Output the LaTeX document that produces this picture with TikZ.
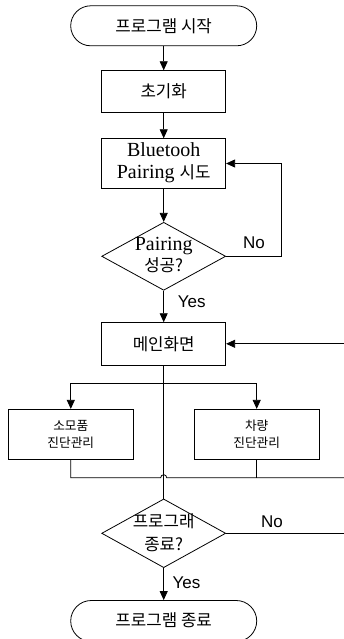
\documentclass[tikz,border=0pt]{standalone}
\usepackage{fontspec}
\setmainfont{Liberation Serif}
\newfontfamily\kr{Noto Sans CJK KR}
\newfontfamily\lsans{Liberation Sans}
\usetikzlibrary{shapes.misc,shapes.geometric,arrows.meta}
\begin{document}
\begin{tikzpicture}[x=1pt,y=-1pt, line width=0.8pt,
  box/.style={draw, rectangle, inner sep=0pt, minimum width=124pt},
  term/.style={draw, rounded rectangle, inner sep=0pt, minimum width=186pt, minimum height=40pt},
  dia/.style={draw, diamond, inner sep=0pt, minimum width=124pt, minimum height=68pt},
  arr/.style={-{Triangle[length=9pt,width=8pt]}},
  lab/.style={font=\lsans\fontsize{17}{20}\selectfont, inner sep=0pt},
  kt/.style={font=\kr\fontsize{16.8}{21}\selectfont, align=center, inner sep=0pt},
  ks/.style={font=\kr\fontsize{12.7}{17}\selectfont, align=center, inner sep=0pt},
  ]
\useasboundingbox (0,0) rectangle (344,639);
\clip (0,0) rectangle (344,639);

\node[term] (start) at (163.7,25.8) {};
\node[kt] (tstart) at (163.7,25.8) {프로그램 시작};
\node[box, minimum height=41.6pt] (init) at (163.7,91.5) {};
\node[kt] (tinit) at (163.7,91.5) {초기화};
\node[box, minimum height=49.6pt] (bt) at (163.7,163.5) {};
\node[font=\fontsize{20}{22}\selectfont, align=center, inner sep=0pt] (tbt) at (163.7,163) {Bluetooh\\Pairing {\kr\fontsize{16.8}{22}\selectfont 시도}};
\node[dia] (d1) at (163.7,256.3) {};
\node[font=\fontsize{20}{21}\selectfont, align=center, inner sep=0pt] (td1) at (163.7,255) {Pairing\\{\kr\fontsize{16.8}{21}\selectfont 성공?}};
\node[box, minimum height=42.3pt] (main) at (163.7,343.8) {};
\node[kt] (tmain) at (163.7,343.8) {메인화면};
\node[box, minimum width=125pt, minimum height=50pt] (c1) at (70.8,434.3) {};
\node[ks] (tc1) at (70.8,434.3) {소모품\\진단관리};
\node[box, minimum width=124.7pt, minimum height=50pt] (c2) at (256.7,434.3) {};
\node[ks] (tc2) at (256.7,434.3) {차량\\진단관리};
\node[dia, minimum height=68.7pt] (d2) at (163.7,533.3) {};
\node[font=\kr\fontsize{16.8}{23}\selectfont, align=center, inner sep=0pt] (td2) at (163.7,533) {프로그래\\종료?};
\node[term, minimum height=41pt] (end) at (163.7,621) {};
\node[kt] (tend) at (163.7,620) {프로그램 종료};

\node[lab] (no1) at (254,243) {No};
\node[lab] (yes1) at (191.7,301.5) {Yes};
\node[lab] (no2) at (272,521.5) {No};
\node[lab] (yes2) at (186.5,583) {Yes};

\coordinate (loop) at (281.7,256.3);
\coordinate (rmain) at (344,343.8);
\coordinate (split) at (163.7,383.3);
\coordinate (joinL) at (70.8,477.7);
\coordinate (joinR) at (256.7,477.7);
\coordinate (redge) at (344,477.7);
\coordinate (rd2) at (344,533.3);

\draw[arr] (start) -- (init);
\draw[arr] (init) -- (bt);
\draw[arr] (bt) -- (d1);
\draw[arr] (d1.east) -- (loop) |- (bt.east);
\draw[arr] (d1) -- (main);
\draw[arr] (rmain) -- (main.east);
\draw (main.south) -- (d2.north);
\draw[arr] (split) -| (c1.north);
\draw[arr] (split) -| (c2.north);
\draw (c1.south) -- (joinL) -- (160.7,477.7) arc[start angle=180, end angle=360, radius=3] -- (redge);
\draw (c2.south) -- (joinR);
\draw (d2.east) -- (rd2);
\draw[arr] (d2) -- (end);
\end{tikzpicture}
\end{document}
